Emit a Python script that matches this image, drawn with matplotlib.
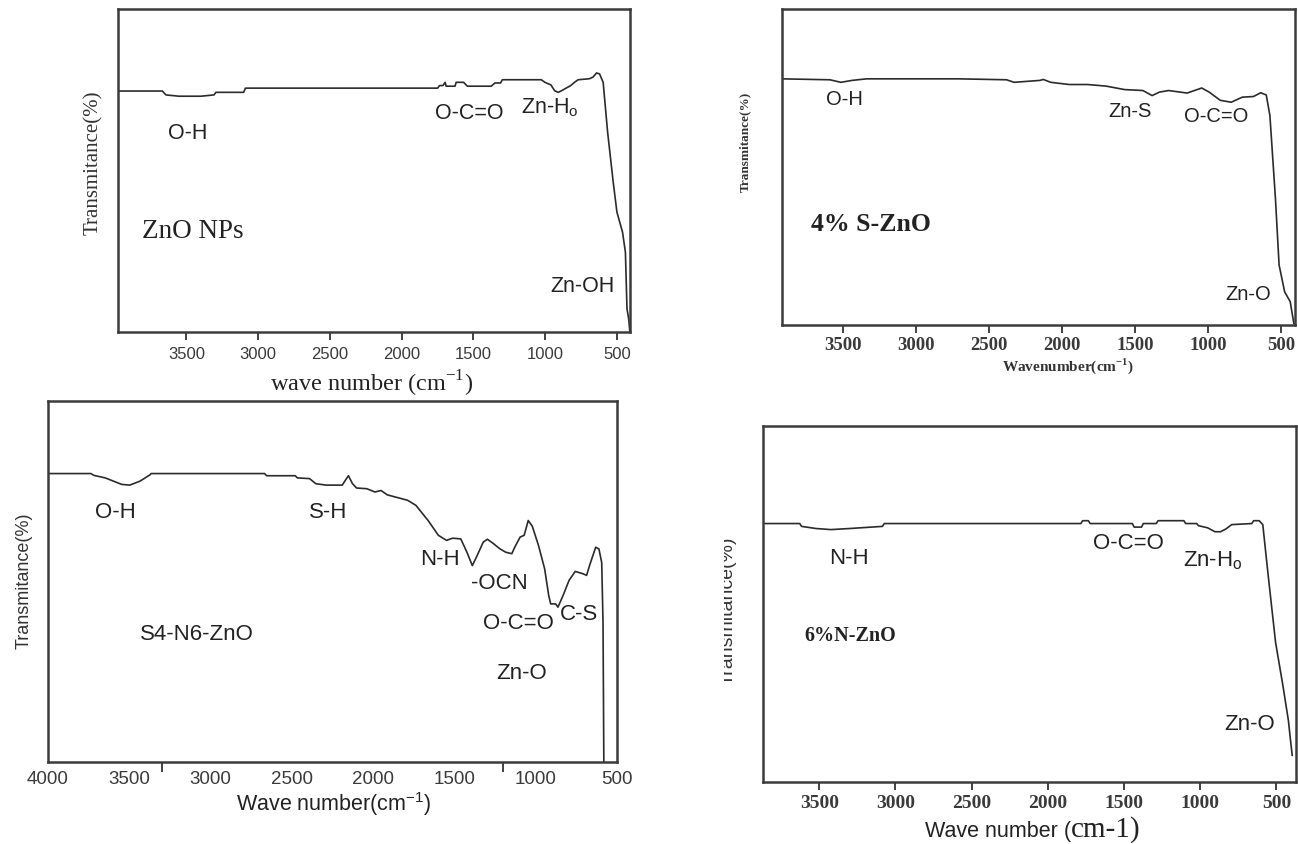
import numpy as np
import matplotlib
matplotlib.use("Agg")
import matplotlib.pyplot as plt
from matplotlib.transforms import Bbox
from matplotlib.font_manager import FontProperties

W, H = 1298, 845
SANS = "Liberation Sans"
SERIF = "Liberation Serif"
INK = "#2b2b2b"

# ZnO NPs spectrum (wavenumber, transmittance in arbitrary %)
wn_zno = [3976, 3667, 3642, 3551, 3397, 3307, 3294, 3101, 3088, 1749, 1736, 1712, 1697, 1690,
          1628, 1620, 1568, 1542, 1376, 1350, 1311, 1298, 1027, 1002, 960, 934, 909, 886, 822,
          796, 770, 693, 667, 642, 621, 596, 565, 526, 500, 461, 441, 430, 418, 410]
t_zno = [74.6, 74.6, 73.4, 73.0, 73.0, 73.4, 74.2, 74.2, 75.5, 75.5, 76.3, 76.3, 77.3, 76.1,
         76.1, 77.3, 77.3, 76.1, 76.1, 77.1, 77.1, 78.1, 78.1, 77.3, 76.5, 74.7, 74.2, 74.7, 76.3,
         77.3, 78.1, 78.4, 78.9, 80.2, 79.9, 77.3, 61.9, 46.4, 37.1, 30.9, 24.7, 7.2, 4.0, 0.0]

# 4% S-ZnO spectrum
wn_s = [3919, 3591, 3515, 3440, 3339, 2708, 2380, 2329, 2153, 2128, 2078, 1951, 1825, 1699,
        1572, 1446, 1383, 1333, 1270, 1143, 1093, 1043, 992, 916, 841, 765, 689, 639, 601,
        576, 538, 513, 475, 437, 412]
t_s = [77.9, 77.6, 76.8, 77.4, 77.9, 77.9, 77.6, 76.8, 77.4, 77.7, 76.8, 76.1, 76.1, 75.6,
       74.5, 74.2, 72.6, 73.7, 74.2, 73.4, 74.2, 75.0, 73.7, 71.1, 70.5, 72.1, 72.3, 73.5, 72.8,
       66.3, 40.0, 19.0, 10.5, 7.4, 0.5]

# S4-N6-ZnO spectrum
wn_sn = [4000, 3736, 3718, 3648, 3547, 3497, 3434, 3371, 3366, 2668, 2655, 2479, 2466, 2391,
         2353, 2290, 2190, 2170, 2152, 2127, 2102, 2039, 1989, 1951, 1913, 1788, 1737, 1662,
         1599, 1549, 1511, 1461, 1423, 1390, 1360, 1323, 1297, 1260, 1222, 1184, 1147, 1129,
         1096, 1071, 1046, 1021, 983, 945, 920, 908, 878, 863, 832, 795, 757, 707, 687, 669,
         631, 611, 594, 586, 581]
t_sn = [79.9, 79.9, 79.4, 78.7, 76.9, 76.7, 77.8, 79.6, 79.9, 79.9, 79.3, 79.3, 78.7, 78.5,
        77.1, 76.7, 76.7, 78.1, 79.3, 77.1, 75.9, 75.7, 74.8, 75.2, 74.0, 72.5, 71.1, 66.9,
        62.8, 61.4, 62.0, 61.8, 58.1, 54.4, 57.2, 60.9, 61.7, 60.5, 59.1, 58.1, 57.7, 59.5,
        62.3, 62.8, 66.9, 65.3, 60.0, 53.5, 46.1, 43.8, 43.8, 42.9, 46.1, 50.3, 52.8, 52.1,
        51.7, 54.4, 59.5, 59.0, 55.2, 38.7, 0.0]

# 6% N-ZnO spectrum
wn_n = [3869, 3628, 3616, 3520, 3423, 3302, 3085, 3073, 1783, 1771, 1734, 1722, 1445, 1433,
        1385, 1373, 1288, 1276, 1107, 1095, 1023, 1011, 951, 903, 866, 830, 793, 661, 649,
        613, 589, 553, 505, 457, 421, 408, 396]
t_n = [72.6, 72.6, 71.8, 71.2, 70.9, 71.2, 71.8, 72.6, 72.6, 73.4, 73.4, 72.6, 72.6, 71.6,
       71.6, 72.6, 72.6, 73.4, 73.4, 72.6, 72.6, 72.0, 71.4, 70.3, 70.3, 71.1, 72.3, 72.6, 73.4,
       73.4, 72.3, 57.8, 39.2, 27.1, 17.3, 12.1, 7.5]

ticks_a = [3500, 3000, 2500, 2000, 1500, 1000, 500]
ticks_c = [4000, 3500, 3000, 2500, 2000, 1500, 1000, 500]

# band labels: (text, wavenumber, transmittance)
bands_zno = [("O-H", 3492, 61.9), ("O-C=O", 1530, 68.0),
             (r"Zn-H$_\mathregular{o}$", 964, 69.8), ("Zn-OH", 740, 14.4)]
bands_s = [("O-H", 3490, 71.8), ("Zn-S", 1535, 67.9), ("O-C=O", 947, 66.3), ("Zn-O", 727, 10.0)]
bands_sn = [("O-H", 3585, 69.4), ("S-H", 2278, 69.4), ("N-H", 1587, 56.5), ("-OCN", 1222, 49.8),
            ("O-C=O", 1104, 38.7), ("C-S", 732, 41.0), ("Zn-O", 1084, 24.8)]
bands_n = [("N-H", 3302, 63.0), ("O-C=O", 1469, 67.2),
           (r"Zn-H$_\mathregular{o}$", 914, 62.5), ("Zn-O", 673, 16.3)]


def box(left, top, right, bottom):
    return [left / W, 1 - bottom / H, (right - left) / W, (bottom - top) / H]


def px(x, y):
    return x / W, 1 - y / H


def panel(rect, wn, t, xlim, ticks, tickfont, pad, bands, bandsize):
    ax = fig.add_axes(rect)
    ax.plot(wn, t, color=INK, lw=1.2)
    ax.set_xlim(*xlim)
    ax.set_ylim(0, 100)
    ax.set_yticks([])
    ax.set_xticks(ticks)
    ax.tick_params(axis="x", direction="out", length=6, width=1.3, color="#333333",
                   pad=pad, labelcolor="#3a3a3a")
    for lab in ax.get_xticklabels():
        lab.set_fontproperties(tickfont)
    for s in ax.spines.values():
        s.set_color("#3c3c3c")
        s.set_linewidth(1.8)
    for txt, x, y in bands:
        ax.text(x, y, txt, ha="center", va="center", fontsize=bandsize,
                family=SANS, color="#222222")
    return ax


fig = plt.figure(figsize=(W / 100, H / 100), dpi=100)
fig.patch.set_facecolor("white")

# ZnO NPs
ax1 = panel(box(118, 10, 630, 333), wn_zno, t_zno, (3976, 409), ticks_a,
            FontProperties(family=SANS, size=12), 4, bands_zno, 15.5)
ax1.text(3808, 31.4, "ZnO NPs", ha="left", va="center", fontsize=19.5, family=SERIF, color="#222222")
fig.text(*px(93, 163), "Transmitance(%)", rotation=90, ha="center", va="center",
         fontsize=15, family=SERIF, color="#333333")
fig.text(*px(372, 384), r"wave number (cm$^{\mathregular{-1}}$)", ha="center", va="center",
         fontsize=17.5, family=SERIF, color="#222222")

# 4% S-ZnO
ax2 = panel(box(782, 10, 1295, 326), wn_s, t_s, (3919, 404), ticks_a,
            FontProperties(family=SERIF, size=13.5, weight="bold"), 2, bands_s, 14.5)
ax2.text(3717, 32.1, "4% S-ZnO", ha="left", va="center", fontsize=18.5, family=SERIF,
         weight="bold", color="#222222")
fig.text(*px(745, 142), "Transmitance(%)", rotation=90, ha="center", va="center",
         fontsize=9.5, family=SERIF, weight="bold", color="#333333")
fig.text(*px(1068, 366), r"Wavenumber(cm$^{\mathregular{-1}}$)", ha="center", va="center",
         fontsize=11, family=SERIF, weight="bold", color="#333333")

# S4-N6-ZnO
ax3 = panel(box(48, 402, 617, 763), wn_sn, t_sn, (4000, 500), ticks_c,
            FontProperties(family=SANS, size=13.5), 6, bands_sn, 16)
ax3.tick_params(axis="x", length=0)
ax3.set_xticks([3300, 1200], minor=True)
ax3.tick_params(axis="x", which="minor", direction="out", length=7, width=1.3, color="#333333")
ax3.text(3087, 35.5, "S4-N6-ZnO", ha="center", va="center", fontsize=16, family=SANS,
         color="#222222")
fig.text(*px(24, 581), "Transmitance(%)", rotation=90, ha="center", va="center",
         fontsize=13, family=SANS, color="#333333")
fig.text(*px(334, 804), r"Wave number(cm$^{\mathregular{-1}}$)", ha="center", va="center",
         fontsize=15.5, family=SANS, color="#222222")

# 6% N-ZnO
ax4 = panel(box(763, 427, 1296, 783), wn_n, t_n, (3869, 371), ticks_a,
            FontProperties(family=SERIF, size=14, weight="bold"), 3, bands_n, 16)
ax4.text(3596, 41.2, "6%N-ZnO", ha="left", va="center", fontsize=14.5, family=SERIF,
         weight="bold", color="#222222")
# y label cut off at its left edge
ylab4 = fig.text(*px(728, 611), "Transmitance(%)", rotation=90, ha="center", va="center",
                 fontsize=14, family=SANS, color="#333333")
ylab4.set_clip_box(Bbox([[724, 0], [W, H]]))
ylab4.set_clip_on(True)
fig.text(*px(1071, 832), "Wave number (", ha="right", va="center", fontsize=15.5,
         family=SANS, color="#222222")
fig.text(*px(1071, 830), "cm-1)", ha="left", va="center", fontsize=21,
         family=SERIF, color="#222222")

fig.savefig("out.png", dpi=100)
